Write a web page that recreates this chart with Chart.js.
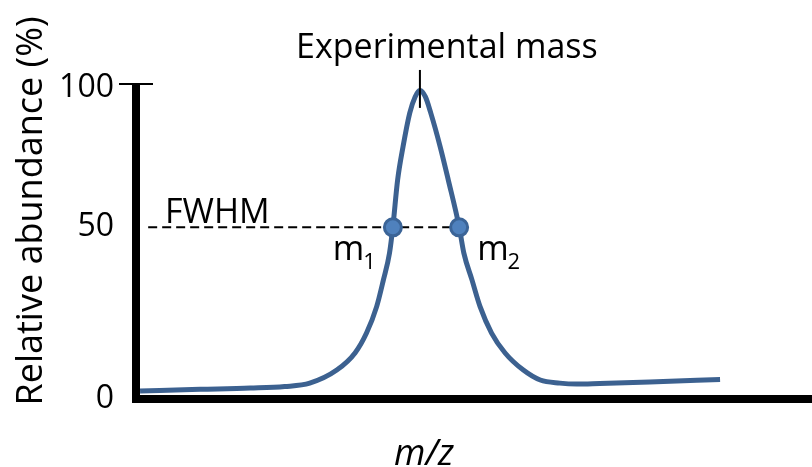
<!DOCTYPE html>
<html>
<head>
<meta charset="utf-8">
<script src="https://cdn.jsdelivr.net/npm/chart.js@4/dist/chart.umd.min.js"></script>
<style>
  html, body { margin: 0; padding: 0; background: #fff; overflow: hidden; }
  canvas { display: block; }
</style>
</head>
<body>
<canvas id="peak" width="812" height="467"></canvas>
<script>
// peak profile (m/z in arbitrary units, abundance in %)
var mzValues  = [0.6, 9.5, 16.9, 22.0, 25.7, 29.7, 32.4, 34.1, 35.6, 36.6, 37.5, 38.0, 38.7, 39.5, 40.5, 41.3, 42.0,
                 42.8, 43.6, 45.0, 46.2, 47.8, 48.5, 49.7, 50.9, 52.6, 54.6, 57.3, 59.8, 62.7, 65.2, 68.6, 76.0, 86.4];
var abundance = [2.6, 3.1, 3.5, 4.0, 5.1, 9.3, 14.8, 21.2, 29.7, 38.3, 46.9, 55.4, 70.4, 81.1, 92.0, 97.2, 99.2,
                 97.2, 92.0, 81.1, 70.4, 55.4, 46.9, 38.3, 29.7, 21.2, 14.8, 9.3, 6.1, 5.1, 4.8, 5.0, 5.5, 6.3];

// half maximum markers
var halfLevel = 55.2;
var fwhmMz = [38.0, 47.8];
var fwhmNames = ['1', '2'];
var dashStartMz = 1.8;

// experimental mass marker
var peakMz = 42.0;
var markerRange = [93.6, 105.8];

// y axis ticks
var yTickValues = [0, halfLevel, 100];
var yTickLabels = ['0', '50', '100'];

var FONT = "'Open Sans', sans-serif";
Chart.defaults.font.family = FONT;
Chart.defaults.color = '#000';

function pts(xs, ys) {
    return xs.map(function (x, i) { return { x: x, y: ys[i] }; });
}

// texts and the small tick on top of the y axis
var annotations = {
    id: 'annotations',
    afterDraw: function (chart) {
        var ctx = chart.ctx;
        var xs = chart.scales.x, ys = chart.scales.y;
        var area = chart.chartArea;
        ctx.save();
        ctx.fillStyle = '#000';
        ctx.strokeStyle = '#000';

        // tick mark at 100
        var y100 = ys.getPixelForValue(100) - 4;
        ctx.lineWidth = 2;
        ctx.beginPath();
        ctx.moveTo(area.left - 17, y100);
        ctx.lineTo(area.left + 17, y100);
        ctx.stroke();

        ctx.textBaseline = 'alphabetic';

        ctx.font = '34px ' + FONT;
        ctx.textAlign = 'center';
        ctx.fillText('Experimental mass', xs.getPixelForValue(peakMz) + 27, 58);

        ctx.textAlign = 'left';
        ctx.fillText('FWHM', area.left + 29, ys.getPixelForValue(halfLevel) - 4);

        // m1 / m2 with subscripts
        var yb = ys.getPixelForValue(halfLevel) + 33;
        fwhmMz.forEach(function (mz, i) {
            ctx.font = '34px ' + FONT;
            var mw = ctx.measureText('m').width;
            ctx.font = '22px ' + FONT;
            var sw = ctx.measureText(fwhmNames[i]).width;
            var px = xs.getPixelForValue(mz);
            var x0 = i === 0 ? px - 17 - mw - sw + 1 : px + 18;
            ctx.font = '34px ' + FONT;
            ctx.fillText('m', x0, yb);
            ctx.font = '22px ' + FONT;
            ctx.fillText(fwhmNames[i], x0 + mw - 1, yb + 9);
        });

        // axis titles
        ctx.font = 'italic 36px ' + FONT;
        ctx.textAlign = 'center';
        ctx.fillText('m/z', 424, 465);

        ctx.font = '36px ' + FONT;
        ctx.translate(42, 211);
        ctx.rotate(-Math.PI / 2);
        ctx.fillText('Relative abundance (%)', 0, 0);
        ctx.restore();
    }
};

new Chart(document.getElementById('peak'), {
    type: 'line',
    data: {
        datasets: [{
            type: 'scatter',
            data: fwhmMz.map(function (mz) { return { x: mz, y: halfLevel }; }),
            pointRadius: 8.5,
            pointBackgroundColor: '#4f81bd',
            pointBorderColor: '#3b6497',
            pointBorderWidth: 3,
            showLine: false
        }, {
            data: [{ x: peakMz, y: markerRange[0] }, { x: peakMz, y: markerRange[1] }],
            borderColor: '#000',
            borderWidth: 2,
            pointRadius: 0,
            clip: false
        }, {
            data: pts(mzValues, abundance),
            borderColor: '#3c6190',
            borderWidth: 5,
            pointRadius: 0,
            cubicInterpolationMode: 'monotone'
        }, {
            data: [{ x: dashStartMz, y: halfLevel }, { x: fwhmMz[1], y: halfLevel }],
            borderColor: '#000',
            borderWidth: 2,
            borderDash: [9, 5],
            pointRadius: 0
        }]
    },
    options: {
        responsive: false,
        animation: false,
        events: [],
        layout: { autoPadding: false, padding: { top: 88, right: 0, bottom: 68, left: 0 } },
        plugins: { legend: { display: false }, tooltip: { enabled: false } },
        scales: {
            x: {
                type: 'linear',
                min: 0,
                max: 100,
                grid: { display: false, drawTicks: false },
                border: { display: true, width: 8, color: '#000' },
                ticks: { display: false },
                afterFit: function (scale) {
                    scale.height = 0;
                    scale.paddingLeft = 0;
                    scale.paddingRight = 0;
                }
            },
            y: {
                min: 0,
                max: 100,
                grid: { display: false, drawTicks: false, tickLength: 0 },
                border: { display: true, width: 8, color: '#000' },
                afterBuildTicks: function (scale) {
                    scale.ticks = yTickValues.map(function (v) { return { value: v }; });
                },
                ticks: {
                    padding: 22,
                    font: { size: 32 },
                    color: '#000',
                    callback: function (value, index) { return yTickLabels[index]; }
                },
                afterFit: function (scale) { scale.width = 136; }
            }
        }
    },
    plugins: [annotations]
});
</script>
</body>
</html>
